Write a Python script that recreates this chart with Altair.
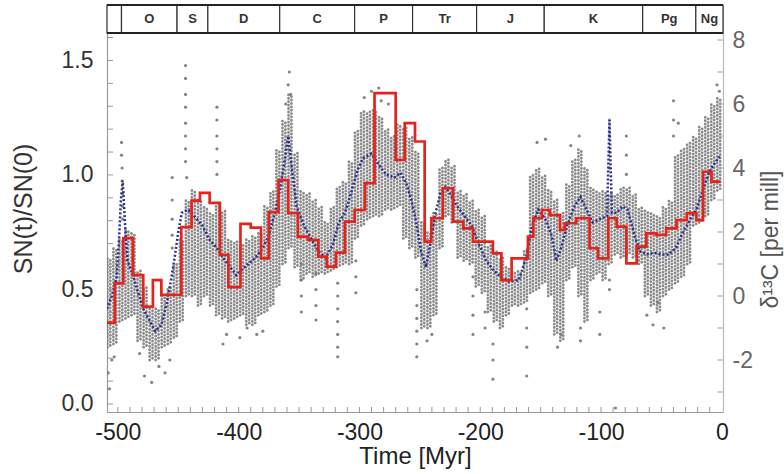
import altair as alt
import pandas as pd

# ---------------- data ----------------
# geological periods shown in the strip along the top (Myr)
period_start = [-509, -497, -451, -425.5, -366, -304, -256, -203, -147, -65.5, -21.5]
period_end = [-497, -451, -425.5, -366, -304, -256, -203, -147, -65.5, -21.5, 1]
period_label = ["", "O", "S", "D", "C", "P", "Tr", "J", "K", "Pg", "Ng"]

# SN(t)/SN(0) histogram (left axis): bin edges and values
sn_edges = [-510, -502.5, -495.5, -487.5, -479, -471, -464, -447.5, -439, -432,
            -424, -415.5, -408.5, -398.5, -390, -381.5, -375, -367, -359, -351,
            -342.5, -334, -327, -319.5, -312, -304, -295.5, -287.5, -270, -262.5,
            -254, -246, -240.5, -231, -222.5, -214, -206, -189.5, -182.5, -174,
            -160.5, -156, -149, -142.5, -134, -130, -120.5, -109.5, -102.5, -94,
            -87, -79, -70.5, -62.5, -54, -46, -37.5, -29, -21, -15.5, -8.5, -1]
sn_values = [0.355, 0.527, 0.724, 0.563, 0.425, 0.541, 0.476, 0.772, 0.888, 0.922,
             0.878, 0.651, 0.510, 0.786, 0.770, 0.636, 0.838, 0.977, 0.833, 0.731,
             0.716, 0.643, 0.600, 0.661, 0.796, 0.847, 0.964, 1.357, 1.066, 1.226,
             1.146, 0.709, 0.811, 0.942, 0.796, 0.767, 0.709, 0.658, 0.541, 0.636,
             0.731, 0.811, 0.847, 0.825, 0.760, 0.789, 0.811, 0.680, 0.636, 0.811,
             0.774, 0.614, 0.687, 0.745, 0.738, 0.767, 0.803, 0.833, 0.803, 1.014,
             0.971]

# smoothed delta13C curve (right axis)
smooth_t = [-509, -505, -501, -499, -497.5, -496, -494, -492, -488, -484, -479, -474,
            -469, -464, -460, -456, -453, -450, -447, -442, -437, -430, -424, -418,
            -413, -407, -402, -398, -392, -386, -380, -375, -370, -366, -362, -359,
            -356, -352, -346, -340, -334, -328, -322, -317, -312, -307, -302, -297,
            -290, -284, -278, -271, -266, -261, -257, -253, -249, -245, -241, -237,
            -233, -229, -225, -219, -213, -207, -201, -195, -189, -183, -176, -168,
            -162, -157, -152, -146, -141, -137, -133, -128, -122, -117, -112, -107,
            -101, -95, -93, -91, -87, -82, -78, -73, -68, -62, -56, -50, -44, -38,
            -32, -26, -21, -15, -10, -5, -1]
smooth_d = [-0.4, 0.0, 0.6, 1.8, 3.0, 3.6, 2.2, 1.1, 0.7, 0.2, -0.4, -0.75,
            -1.1, -0.9, -0.3, 0.5, 1.2, 2.0, 2.6, 2.7, 2.5, 2.2, 1.75, 1.5,
            1.2, 0.9, 0.65, 0.8, 1.0, 1.2, 1.5, 1.9, 2.6, 3.3, 4.2, 5.0,
            4.0, 2.8, 2.2, 1.8, 1.4, 1.2, 1.6, 2.3, 2.6, 3.2, 3.9, 4.3,
            4.45, 4.1, 3.8, 3.7, 3.85, 3.5, 3.0, 2.3, 1.4, 0.9, 1.7, 2.6,
            3.2, 3.4, 3.2, 2.8, 2.5, 2.2, 1.6, 1.1, 0.8, 0.6, 0.45, 0.5,
            1.2, 2.2, 2.7, 2.4, 1.9, 1.1, 1.5, 2.2, 2.8, 3.1, 2.7, 2.3,
            2.4, 2.5, 5.5, 2.6, 2.6, 2.8, 2.7, 2.0, 1.4, 1.3, 1.35, 1.3, 1.3, 1.5,
            2.0, 2.4, 2.7, 3.4, 3.9, 4.2, 4.4]

# spread of the delta13C measurements in 5-Myr bins (right axis)
cloud_t = [-510, -505, -500, -495, -490, -485, -480, -475, -470, -465, -460, -455,
           -450, -445, -440, -435, -430, -425, -420, -415, -410, -405, -400, -395,
           -390, -385, -380, -375, -370, -365, -360, -355, -350, -345, -340, -335,
           -330, -325, -320, -315, -310, -305, -300, -295, -290, -285, -280, -275,
           -270, -265, -260, -255, -250, -245, -240, -235, -230, -225, -220, -215,
           -210, -205, -200, -195, -190, -185, -180, -175, -170, -165, -160, -155,
           -150, -145, -140, -135, -130, -125, -120, -115, -110, -105, -100, -95,
           -90, -85, -80, -75, -70, -65, -60, -55, -50, -45, -40, -35,
           -30, -25, -20, -15, -10, -5]
cloud_lo = [-1.6, -1.5, -0.8, -0.7, -0.6, -1.4, -1.6, -2.0, -2.0, -1.6, -1.5, -1.3,
            -0.8, 0.0, 0.0, -0.3, 0.0, -0.3, -0.6, -0.7, -0.8, -0.7, -0.6, -0.9,
            -0.9, -0.6, -0.5, -0.3, 0.3, 1.0, 1.5, 0.9, 0.5, 0.7, 0.6, 0.7,
            0.7, 0.8, 0.9, 1.0, 1.0, 1.8, 2.2, 2.4, 2.5, 2.5, 2.7, 2.7,
            2.8, 1.8, 1.5, 1.2, -1.0, -1.0, -0.6, 1.5, 2.5, 2.3, 1.2, 1.1,
            1.0, 0.3, 0.1, -0.5, -0.8, -1.0, -0.6, -0.3, -0.3, -0.2, 0.1, 0.2,
            0.4, 0.0, -1.2, -1.4, 0.5, 0.9, 0.0, -0.8, 0.5, 0.7, 0.5, 1.0,
            1.3, 1.2, 1.3, 1.2, 1.0, 0.0, -0.3, -0.5, 0.0, 0.2, 0.4, 0.6,
            1.0, 2.2, 2.3, 2.5, 3.0, 3.3]
cloud_hi = [1.2, 1.5, 1.8, 2.1, 2.0, 0.8, 0.3, -0.3, -0.4, 0.0, 0.3, 1.0,
            1.8, 3.0, 3.3, 3.0, 2.8, 2.6, 2.9, 2.7, 1.8, 1.7, 1.6, 1.8,
            1.9, 2.0, 2.8, 3.3, 4.6, 5.5, 6.3, 4.5, 3.3, 3.2, 3.0, 2.8,
            2.3, 2.8, 3.4, 3.6, 4.2, 5.2, 5.8, 5.8, 5.8, 5.6, 5.2, 5.0,
            5.4, 5.3, 5.0, 4.5, 2.3, 2.0, 2.6, 4.0, 4.3, 4.1, 3.3, 3.2,
            3.0, 2.7, 2.5, 1.6, 1.4, 1.2, 0.9, 0.8, 0.8, 1.5, 3.8, 4.0,
            3.8, 3.3, 3.0, 2.6, 3.5, 4.3, 4.6, 4.0, 3.4, 3.3, 3.3, 3.2,
            3.2, 3.4, 3.4, 3.2, 2.8, 2.7, 2.6, 2.5, 2.8, 3.0, 4.4, 4.6,
            4.8, 5.0, 5.3, 5.6, 6.0, 6.2]

# isolated delta13C measurements outside the main spread
pt_t = [-508, -507, -505, -503, -497, -497, -496.5, -496.5, -496, -496, -496,
        -482, -478, -472, -466, -461, -457, -455, -455, -455, -455, -455,
        -444, -444, -444, -444, -444, -444, -444, -444, -443,
        -418, -418, -418, -418, -418, -418,
        -413, -410, -399, -393, -385, -380,
        -358, -359, -357, -361,
        -348, -348, -348, -348, -336, -336, -336, -336,
        -318, -318, -318, -318, -318, -318, -318, -303, -303, -303,
        -296, -290, -284, -282, -276,
        -252.5, -252.5, -252.5, -252.5, -252.5, -252.5, -244, -240,
        -206, -206, -206, -206, -196, -196, -189.5, -189.5, -189.5,
        -161.5, -161.5, -161.5, -161.5, -153, -146,
        -136, -133, -125, -118, -117, -117, -101, -101,
        -93, -93, -93, -93, -93, -93, -88,
        -79, -79, -79, -62, -57, -53, -48,
        -40, -40, -40, -36, -4, -2]
pt_d = [-2.4, -2.9, -2.0, -1.9, 4.8, 4.4, 4.0, 3.6, 3.2, 2.8, 2.4,
        -1.8, -2.5, -2.7, -2.2, -2.4, -2.0, 3.7, 3.0, 2.4, 1.9, 1.5,
        7.2, 6.8, 6.3, 5.9, 5.4, 5.0, 4.6, 4.2, 3.7,
        5.9, 5.5, 5.0, 4.6, 4.2, 3.8,
        -1.5, -1.2, -1.3, -1.0, -1.2, -1.1,
        7.0, 6.6, 6.3, 6.0,
        1.0, 0.5, 0.0, -0.5, 0.7, 0.2, -0.3, -0.75,
        0.4, 0.0, -0.4, -0.8, -1.2, -1.6, -1.9, 0.1, 0.6, 1.1,
        6.2, 6.4, 6.5, 6.1, 6.0,
        0.2, -0.3, -0.7, -1.1, -1.5, -1.9, -1.4, -1.2,
        0.6, 0.0, -0.6, -1.2, -0.5, -1.0, -1.5, -2.0, -2.6,
        -0.4, -1.0, -1.6, -2.5, 4.8, 4.9,
        -1.6, -1.2, 4.7, 5.0, -1.4, -1.0, -0.5, -1.2,
        5.5, 5.0, 4.5, 4.0, 0.5, 0.2, -3.5,
        5.0, 4.4, 3.8, -0.6, -0.9, -0.2, -1.0,
        6.1, 5.5, 5.0, 5.4, 6.6, 6.4]

# axis ticks
x_labels = [-500, -400, -300, -200, -100, 0]
x_minor = [-500, -490, -480, -470, -460, -450, -440, -430, -420, -410, -400, -390,
           -380, -370, -360, -350, -340, -330, -320, -310, -300, -290, -280, -270,
           -260, -250, -240, -230, -220, -210, -200, -190, -180, -170, -160, -150,
           -140, -130, -120, -110, -100, -90, -80, -70, -60, -50, -40, -30, -20, -10]
sn_labels = [0.0, 0.5, 1.0, 1.5]
sn_minor = [0.0, 0.1, 0.2, 0.3, 0.4, 0.5, 0.6, 0.7, 0.8, 0.9, 1.0, 1.1, 1.2, 1.3,
            1.4, 1.5, 1.6]
dc_labels = [-2, 0, 2, 4, 6, 8]
dc_minor = [-3, -2, -1, 0, 1, 2, 3, 4, 5, 6, 7, 8]

# ---------------- tables ----------------
periods = pd.DataFrame({"t": period_start, "b": period_end, "label": period_label})
sn_df = pd.DataFrame({"t": sn_edges, "v": sn_values + [sn_values[-1]]})
smooth_df = pd.DataFrame({"t": smooth_t, "d": smooth_d})
cloud_df = pd.DataFrame({"t": cloud_t, "lo": cloud_lo, "hi": cloud_hi})
pts_df = pd.DataFrame({"t": pt_t, "d": pt_d})
xt_df = pd.DataFrame({"t": x_minor})
snt_df = pd.DataFrame({"v": sn_minor})
dct_df = pd.DataFrame({"d": dc_minor})

FONT = "Liberation Sans"
W, H = 616, 407

x_scale = alt.Scale(domain=[-509, 1], nice=False, zero=False)
sn_scale = alt.Scale(domain=[-0.035, 1.742], nice=False, zero=False)
dc_scale = alt.Scale(domain=[-3.625, 9.094], nice=False, zero=False)

x_axis = alt.Axis(title="Time [Myr]", values=x_labels, labelExpr="'' + datum.value",
                  ticks=False, grid=False, labelFontSize=23, labelColor="#222",
                  labelPadding=9, titleFontSize=24, titleColor="#222",
                  titleFontWeight="normal", titlePadding=0, domainColor="#999",
                  domainWidth=1.2, labelFont=FONT, titleFont=FONT)
X = alt.X("t:Q", scale=x_scale, axis=x_axis)

sn_axis = alt.Axis(title="SN(t)/SN(0)", values=sn_labels, format=".1f", orient="left",
                   ticks=False, grid=False, labelFontSize=23, labelColor="#333",
                   labelPadding=14, titleFontSize=25, titleColor="#333",
                   titleFontWeight="normal", titlePadding=25, domainColor="#999",
                   domainWidth=1.2, labelFont=FONT, titleFont=FONT)

dc_axis = alt.Axis(title="δ¹³C  [per mill]", values=dc_labels,
                   labelExpr="'' + datum.value", orient="right", ticks=False,
                   grid=False, labelFontSize=23, labelColor="#666", labelPadding=9,
                   titleFontSize=23, titleColor="#555", titleFontWeight="normal",
                   titleAngle=-90, titleX=47, titleY=234, titleAlign="center",
                   titleBaseline="middle", domainColor="#bbb", domainWidth=1.2,
                   labelFont=FONT, titleFont=FONT)

# ---------- left-axis layers ----------
sn_line = alt.Chart(sn_df).mark_line(
    interpolate="step-after", color="#e5231b", strokeWidth=2.7, clip=True
).encode(x=X, y=alt.Y("v:Q", scale=sn_scale, axis=sn_axis))

sn_ticks = alt.Chart(snt_df).mark_rule(color="#999", strokeWidth=1).encode(
    y=alt.Y("v:Q", scale=sn_scale, axis=sn_axis), x=alt.value(0), x2=alt.value(6))

left = alt.layer(sn_line, sn_ticks)

# ---------- right-axis layers ----------
# each 5-Myr bin is drawn as two staggered columns of dots
cloud_a = alt.Chart(cloud_df).transform_calculate(tc="datum.t + 1.3").mark_rule(
    color="#767676", opacity=0.85, strokeWidth=2.8, strokeCap="round",
    strokeDash=[0.1, 3.3], clip=True
).encode(x=alt.X("tc:Q", scale=x_scale, axis=x_axis),
         y=alt.Y("lo:Q", scale=dc_scale, axis=dc_axis), y2="hi:Q")

cloud_b = alt.Chart(cloud_df).transform_calculate(tc="datum.t + 3.7").mark_rule(
    color="#767676", opacity=0.85, strokeWidth=2.8, strokeCap="round",
    strokeDash=[0.1, 3.3], strokeDashOffset=1.7, clip=True
).encode(x=alt.X("tc:Q", scale=x_scale, axis=x_axis),
         y=alt.Y("lo:Q", scale=dc_scale, axis=dc_axis), y2="hi:Q")

pts = alt.Chart(pts_df).mark_circle(size=10, color="#777", opacity=0.9, clip=True).encode(
    x=X, y=alt.Y("d:Q", scale=dc_scale, axis=dc_axis))

smooth = alt.Chart(smooth_df).mark_line(
    color="#28308c", strokeWidth=2.5, strokeDash=[2, 2], clip=True
).encode(x=X, y=alt.Y("d:Q", scale=dc_scale, axis=dc_axis))

dc_ticks = alt.Chart(dct_df).mark_rule(color="#aaa", strokeWidth=1).encode(
    y=alt.Y("d:Q", scale=dc_scale, axis=dc_axis), x=alt.value(W), x2=alt.value(W - 6))

right = alt.layer(cloud_a, cloud_b, pts, smooth, dc_ticks)

# ---------- bottom ticks and period strip ----------
x_ticks = alt.Chart(xt_df).mark_rule(color="#999", strokeWidth=1).encode(
    x=X, y=alt.value(H), y2=alt.value(H - 5))

strip = alt.Chart(periods).mark_rect(
    fill="white", stroke="#333", strokeWidth=1.2
).encode(x=X, x2="b:Q", y=alt.value(0), y2=alt.value(28))

strip_top = alt.Chart(periods).transform_aggregate(
    t="min(t)", b="max(b)").mark_rule(color="#222", strokeWidth=2.2).encode(
    x=X, x2="b:Q", y=alt.value(0))
strip_bottom = alt.Chart(periods).transform_aggregate(
    t="min(t)", b="max(b)").mark_rule(color="#222", strokeWidth=2.2).encode(
    x=X, x2="b:Q", y=alt.value(28))

strip_text = alt.Chart(periods).transform_calculate(
    tm="(datum.t + datum.b) / 2").mark_text(
    font=FONT, fontSize=13, fontWeight="bold", color="#333", baseline="middle"
).encode(x=alt.X("tm:Q", scale=x_scale, axis=x_axis), y=alt.value(14), text="label:N")

chart = alt.layer(
    right, left, x_ticks, strip, strip_top, strip_bottom, strip_text
).resolve_scale(y="independent").properties(
    width=W, height=H, autosize="none",
    padding={"left": 107, "top": 5, "right": 61, "bottom": 62},
).configure_view(stroke=None).configure(font=FONT)

chart.save("out.html", embed_options={"renderer": "svg", "actions": False})
